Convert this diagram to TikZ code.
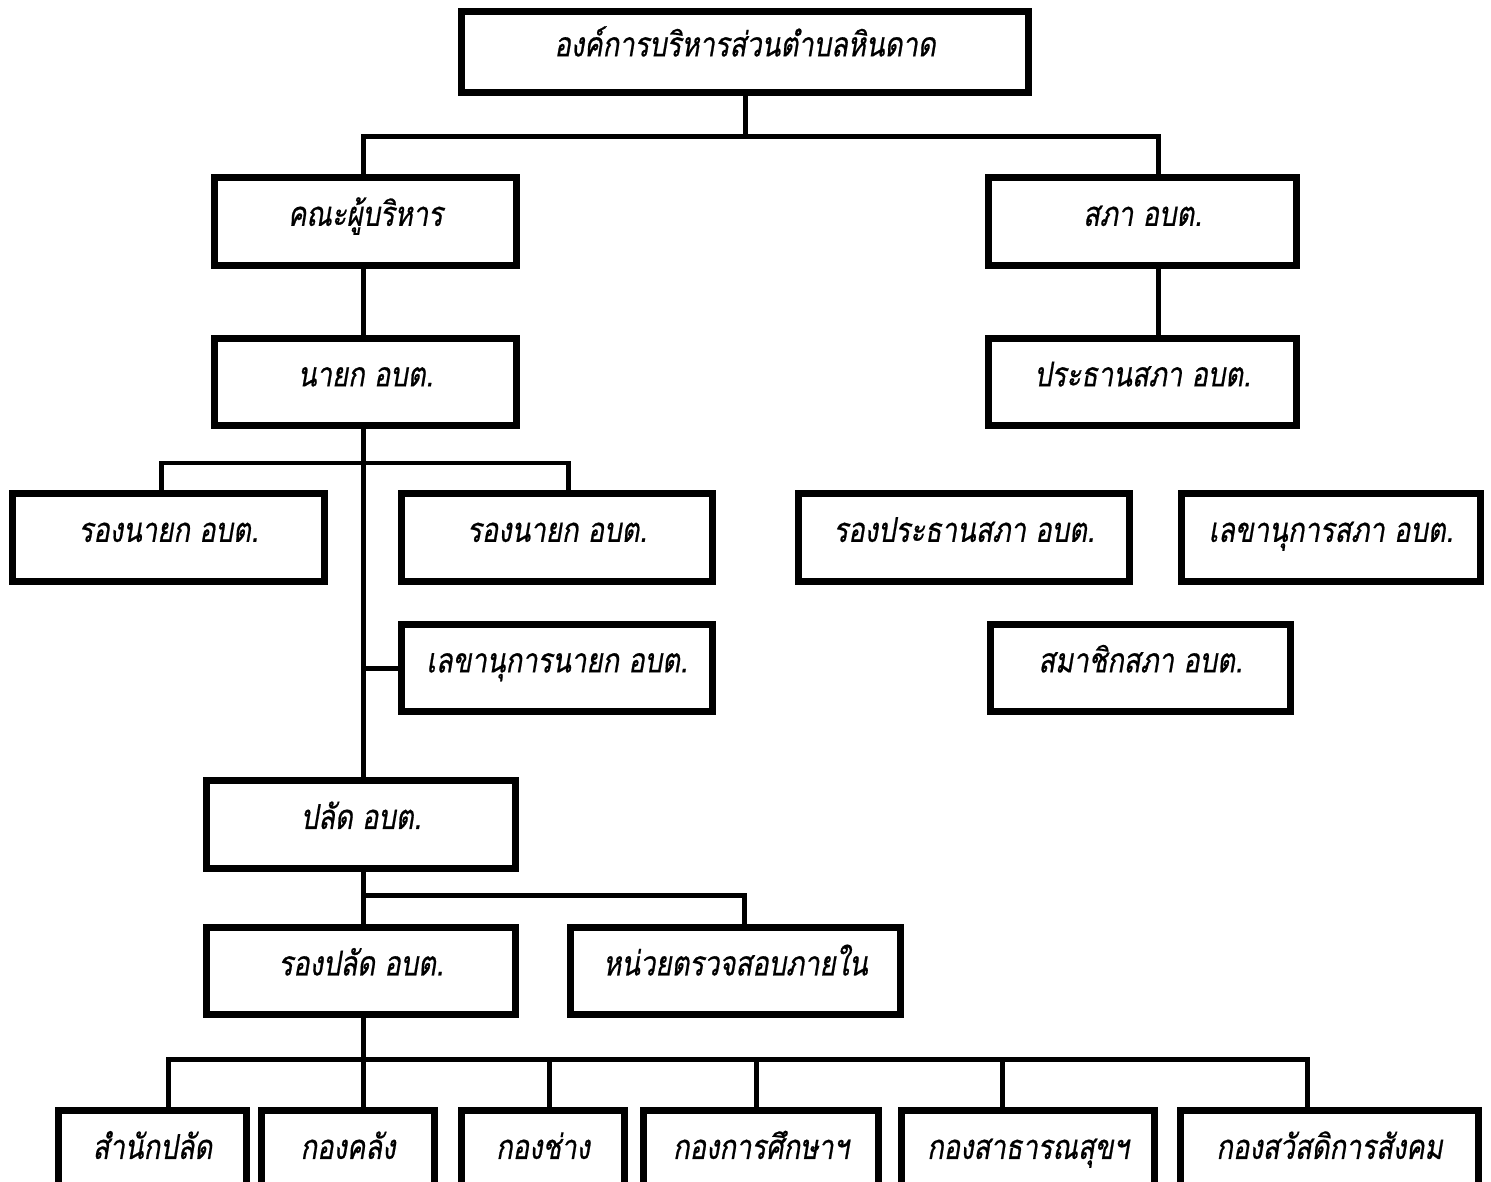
\documentclass[tikz,border=0pt]{standalone}
\usepackage{fontspec}
\newfontfamily\thaifont[Script=Thai, FakeStretch=0.8, FakeBold=0.6]{Loma}
\tikzset{
  box/.style={draw, line width=0.14cm, minimum width={#1*0.02cm}, minimum height=1.76cm,
    inner sep=0pt, text height=11pt, text depth=6pt,
    font={\thaifont\itshape\fontsize{19.5}{22}\selectfont}},
  link/.style={line width=0.1cm, line cap=rect}
}
\begin{document}
\begin{tikzpicture}[x=0.02cm, y=-0.02cm]
  \useasboundingbox (0,0) rectangle (1491,1182);
  \node[box=567, minimum height=1.62cm] (top) at (745,52) {องค์การบริหารส่วนตำบลหินดาด};
  \node[box=302] (khana) at (365.5,221.5) {คณะผู้บริหาร};
  \node[box=308] (sapha) at (1142.5,221.5) {สภา อบต.};
  \node[box=302] (nayok) at (365.5,382) {นายก อบต.};
  \node[box=308] (prathan) at (1142.5,382) {ประธานสภา อบต.};
  \node[box=312] (rongnayokA) at (168.5,537.5) {รองนายก อบต.};
  \node[box=311] (rongnayokB) at (557,537.5) {รองนายก อบต.};
  \node[box=331] (rongprathan) at (964,537.5) {รองประธานสภา อบต.};
  \node[box=299] (lekhasapha) at (1331,537.5) {เลขานุการสภา อบต.};
  \node[box=311] (lekhanayok) at (557,668) {เลขานุการนายก อบต.};
  \node[box=300] (samachik) at (1140.5,668) {สมาชิกสภา อบต.};
  \node[box=309] (palat) at (361,824.5) {ปลัด อบต.};
  \node[box=309] (rongpalat) at (361,971) {รองปลัด อบต.};
  \node[box=330] (audit) at (735.5,971) {หน่วยตรวจสอบภายใน};
  \node[box=188] (samnak) at (152.5,1154.5) {สำนักปลัด};
  \node[box=173] (khlang) at (348,1154.5) {กองคลัง};
  \node[box=163] (chang) at (543,1154.5) {กองช่าง};
  \node[box=235] (suksa) at (761,1154.5) {กองการศึกษาฯ};
  \node[box=253] (satharana) at (1028,1154.5) {กองสาธารณสุขฯ};
  \node[box=298] (sawatdikan) at (1329.5,1154.5) {กองสวัสดิการสังคม};

  \coordinate (jL) at (363,136.5);
  \coordinate (jR) at (1158,136.5);
  \coordinate (nA) at (161,463);
  \coordinate (nB) at (568,463);
  \coordinate (pB) at (744,895);
  \coordinate (b1) at (168,1059);
  \coordinate (b2) at (363,1059);
  \coordinate (b3) at (549,1059);
  \coordinate (b4) at (756,1059);
  \coordinate (b5) at (1002,1059);
  \coordinate (b6) at (1307,1059);
  \begin{scope}[link]
    \draw (top.south) -- (top.south |- jL);
    \draw (jL |- khana.north) -- (jL) -- (jR) -- (jR |- sapha.north);
    \draw (khana.south -| jL) -- (nayok.north -| jL);
    \draw (sapha.south -| jR) -- (prathan.north -| jR);
    \draw (nayok.south -| jL) -- (palat.north -| jL);
    \draw (nA |- rongnayokA.north) -- (nA) -- (nB) -- (nB |- rongnayokB.north);
    \draw (lekhanayok.west -| jL) -- (lekhanayok.west);
    \draw (palat.south -| jL) -- (rongpalat.north -| jL);
    \draw (pB -| jL) -- (pB) -- (pB |- audit.north);
    \draw (rongpalat.south -| jL) -- (b2);
    \draw (b1) -- (b6);
    \foreach \b/\n in {b1/samnak, b2/khlang, b3/chang, b4/suksa, b5/satharana, b6/sawatdikan}
      \draw (\b) -- (\b |- \n.north);
  \end{scope}
\end{tikzpicture}
\end{document}
